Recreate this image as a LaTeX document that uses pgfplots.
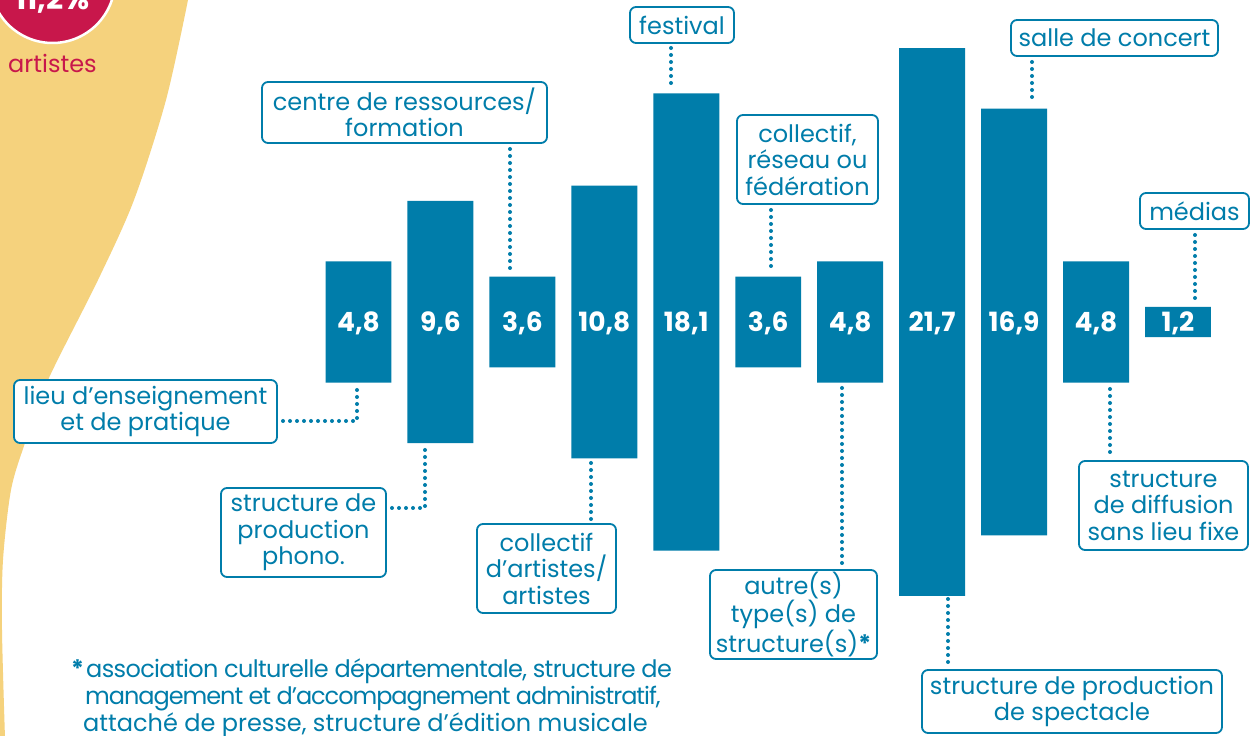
\documentclass[border=0pt]{standalone}
\usepackage{pgfplots}
\pgfplotsset{compat=1.18}
\usepackage{pgfplotstable}
\usepackage{fontspec}
\setmainfont{Poppins}
\definecolor{bleu}{HTML}{007DAA}
\definecolor{jaune}{HTML}{F5D27D}
\definecolor{rouge}{HTML}{C8174B}

\pgfplotstableread{
i v
0 4.8
1 9.6
2 3.6
3 10.8
4 18.1
5 3.6
6 4.8
7 21.7
8 16.9
9 4.8
10 1.2
}\data

\pgfplotsset{
  base/.style={at={(0,0)}, anchor=south west, scale only axis,
    width=1259pt, height=736pt,
    xmin=-4.3746, xmax=10.9884, ymin=3.604, ymax=32.752,
    hide axis, clip=false}
}
\tikzset{
  lbl/.style={draw=bleu, line width=1.8pt, rounded corners=6pt, fill=white,
    text=bleu, align=center, font=\fontsize{24}{26.5}\selectfont, inner sep=0pt},
  dots/.style={bleu, line width=4pt, line cap=round, dash pattern=on 0pt off 7pt}
}

\begin{document}
\begin{tikzpicture}[x=1pt,y=1pt]
\useasboundingbox (0,0) rectangle (1259,736);
\clip (0,0) rectangle (1259,736);
\begin{scope}[shift={(0,736)}, yscale=-1]
  \fill[white] (0,0) rectangle (1259,736);
  \fill[jaune] (0,-2) -- (188,-2) -- plot[smooth] coordinates {(188,0) (166,100) (134,200) (98,280) (48,380) (25,443) (11,490) (3,560) (2,630) (5,738)} -- (0,738) -- cycle;
  \filldraw[fill=rouge, draw=white, line width=2.5pt] (52.5,-19.5) circle (62.5);
  \node[anchor=base, text=white, font=\bfseries\fontsize{30}{30}\selectfont, inner sep=0pt] at (52.5,10) {11,2\%};
  \node[anchor=base west, text=rouge, font=\fontsize{24}{26}\selectfont, inner sep=0pt] at (8,73) {artistes};
\end{scope}

\begin{axis}[base, ybar stacked, bar width=0.805]
  \addplot[draw=none, fill=none] table[x=i, y expr=20-\thisrow{v}/2] {\data};
  \addplot[draw=none, fill=bleu] table[x=i, y=v] {\data};
\end{axis}
\begin{axis}[base]
  \addplot[draw=none, mark=none, point meta=explicit,
    nodes near coords={\pgfmathprintnumber[fixed, fixed zerofill, precision=1, use comma, assume math mode=true]{\pgfplotspointmeta}},
    every node near coord/.style={anchor=base, yshift=-9.5pt, inner sep=0pt, text=white, font=\bfseries\fontsize{26.5}{26.5}\selectfont}]
    table[x=i, y expr=20, meta=v] {\data};
\end{axis}

\begin{scope}[shift={(0,736)}, yscale=-1]
  \draw[dots] (283,421) -- (357,421) -- (357,388);
  \draw[dots] (392,508) -- (425,508) -- (425,447);
  \draw[dots] (510,149) -- (510,270);
  \draw[dots] (591,463) -- (591,520);
  \draw[dots] (671,48) -- (671,87);
  \draw[dots] (771,210) -- (771,270);
  \draw[dots] (842,388) -- (842,564);
  \draw[dots] (948,599) -- (948,665);
  \draw[dots] (1032,62) -- (1032,103);
  \draw[dots] (1110,389) -- (1110,455);
  \draw[dots] (1195,235) -- (1195,300);

  \node[lbl, minimum width=263, minimum height=63] at (145.5,411.5) {lieu d’enseignement\\et de pratique};
  \node[lbl, minimum width=165, minimum height=89] at (303.5,532.5) {structure de\\production\\phono.};
  \node[lbl, minimum width=285, minimum height=61] at (404.5,112.5) {centre de ressources/\\formation};
  \node[lbl, minimum width=139, minimum height=89] at (546.5,568.5) {collectif\\d’artistes/\\artistes};
  \node[lbl, minimum width=104, minimum height=36] at (682,25) {festival};
  \node[lbl, minimum width=141, minimum height=89] at (807.5,159.5) {collectif,\\réseau ou\\fédération};
  \node[lbl, minimum width=167, minimum height=89] at (793.5,614.5) {autre(s)\\type(s) de\\structure(s)\textbf{*}};
  \node[lbl, minimum width=300, minimum height=63] at (1072,701.5) {structure de production\\de spectacle};
  \node[lbl, minimum width=207, minimum height=36] at (1114.5,38) {salle de concert};
  \node[lbl, minimum width=169, minimum height=89] at (1163.5,505.5) {structure\\de diffusion\\sans lieu fixe};
  \node[lbl, minimum width=109, minimum height=36] at (1194.5,211) {médias};

  \node[anchor=base west, text=bleu, font=\bfseries\fontsize{24}{26}\selectfont, inner sep=0pt] at (71,678) {*};
  \node[anchor=base west, text=bleu, font=\fontsize{24}{26}\selectfont\addfontfeatures{LetterSpace=-2.7}, inner sep=0pt] at (86,678) {association culturelle départementale, structure de};
  \node[anchor=base west, text=bleu, font=\fontsize{24}{26}\selectfont\addfontfeatures{LetterSpace=-4.3}, inner sep=0pt] at (85,705) {management et d’accompagnement administratif,};
  \node[anchor=base west, text=bleu, font=\fontsize{24}{26}\selectfont, inner sep=0pt] at (83,732) {attaché de presse, structure d’édition musicale};
\end{scope}
\end{tikzpicture}
\end{document}
